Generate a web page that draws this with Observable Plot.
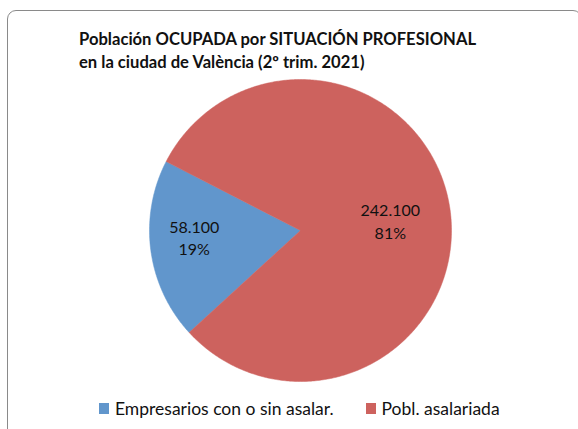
<!DOCTYPE html>
<html>
<head>
<meta charset="utf-8">
<script src="https://cdn.jsdelivr.net/npm/d3@7"></script>
<script src="https://cdn.jsdelivr.net/npm/@observablehq/plot@0.6"></script>
<style>
  html, body { margin: 0; padding: 0; background: #fff; }
  #wrap { position: relative; width: 578px; height: 429px; overflow: hidden; font-family: Lato, "Open Sans", sans-serif; }
  #frame { position: absolute; left: 7px; top: 10px; width: 575px; height: 430px; border: 1px solid #8a8a8a; border-radius: 9px; box-sizing: border-box; }
  #title { position: absolute; left: 79px; top: 28px; font-weight: bold; font-size: 16.6px; line-height: 23px; color: #111; }
  #chart { position: absolute; left: 0; top: 0; }
  #legend { position: absolute; left: 99px; top: 398px; font-size: 17.5px; color: #111; display: flex; align-items: center; }
  .item { display: flex; align-items: center; }
  .sw { width: 10px; height: 11px; margin-right: 6px; }
</style>
</head>
<body>
<div id="wrap">
  <div id="frame"></div>
  <div id="chart"></div>
  <div id="title">Población OCUPADA por SITUACIÓN PROFESIONAL<br>en la ciudad de València (2º trim. 2021)</div>
  <div id="legend"></div>
</div>
<script>
const categories = ["Empresarios con o sin asalar.", "Pobl. asalariada"];
const values = [58100, 242100];
const valueLabels = ["58.100", "242.100"];
const percentLabels = ["19%", "81%"];
const colors = ["#6196cc", "#cd625e"];

const startDeg = 227.5;
const pie = d3.pie().sort(null).startAngle(startDeg * Math.PI / 180).endAngle((startDeg + 360) * Math.PI / 180);
const arcs = pie(values);

// polygon points in unit-circle data space
const pts = [];
arcs.forEach((a, i) => {
  const n = Math.max(2, Math.ceil((a.endAngle - a.startAngle) / 0.01));
  pts.push({cat: categories[i], x: 0, y: 0});
  for (let k = 0; k <= n; k++) {
    const t = a.startAngle + (a.endAngle - a.startAngle) * k / n;
    pts.push({cat: categories[i], x: Math.sin(t), y: Math.cos(t)});
  }
  pts.push({cat: categories[i], x: 0, y: 0});
});

const labelR = [0.71, 0.6];
const labelDy = [-8, 2];
const labels = arcs.map((a, i) => {
  const m = (a.startAngle + a.endAngle) / 2;
  return {x: Math.sin(m) * labelR[i], y: Math.cos(m) * labelR[i], text: valueLabels[i] + "\n" + percentLabels[i]};
});

const cx = 300, cy = 230, r = 151;
const chart = Plot.plot({
  width: 578, height: 429,
  margin: 0,
  x: {domain: [-1, 1], range: [cx - r, cx + r], axis: null},
  y: {domain: [-1, 1], range: [cy + r, cy - r], axis: null},
  color: {domain: categories, range: colors},
  style: {background: "transparent", fontFamily: "Lato, 'Open Sans', sans-serif"},
  marks: [
    Plot.line(pts, {x: "x", y: "y", z: "cat", fill: "cat", stroke: "cat", strokeWidth: 0.5, curve: "linear"}),
    ...labels.map((l, i) => Plot.text([l], {x: "x", y: "y", text: "text", fontSize: 16, fill: "#111", lineHeight: 1.42, dy: labelDy[i]}))
  ]
});
document.getElementById("chart").appendChild(chart);

const legend = document.getElementById("legend");
categories.forEach((c, i) => {
  const it = document.createElement("div");
  it.className = "item";
  it.style.marginRight = i === 0 ? "32px" : "0";
  const sw = document.createElement("div");
  sw.className = "sw";
  sw.style.background = colors[i];
  const tx = document.createElement("span");
  tx.textContent = c;
  it.appendChild(sw); it.appendChild(tx);
  legend.appendChild(it);
});
</script>
</body>
</html>
